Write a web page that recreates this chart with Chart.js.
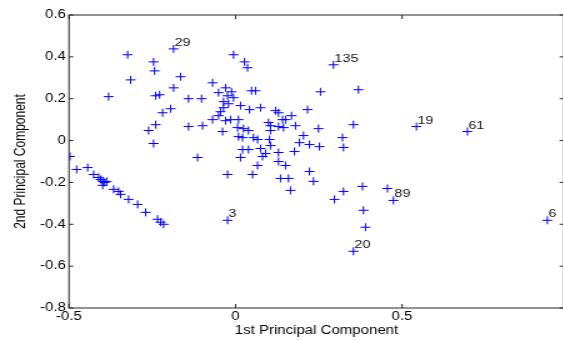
<!DOCTYPE html>
<html lang="en">
<head>
    <meta charset="UTF-8">
    <title>Principal Components</title>
    <script src="https://cdn.jsdelivr.net/npm/chart.js"></script>
    <style>
        html, body {
            margin: 0;
            padding: 0;
            width: 563px;
            height: 340px;
            overflow: hidden;
            background: #fff;
        }
        /* the reference is stretched sideways, so draw narrow and widen */
        #wrap {
            position: absolute;
            left: 0;
            top: 0;
            width: 460px;
            height: 340px;
            transform: scaleX(1.25);
            transform-origin: 0 0;
        }
    </style>
</head>
<body>

    <div id="wrap">
        <canvas id="pcaChart"></canvas>
    </div>

    <script>
        // scores on the first two principal components
        const pc1 = [
            -0.497, -0.477, -0.444, -0.426, -0.411, -0.405, -0.399, -0.393, -0.387, -0.399,
            -0.366, -0.351, -0.345, -0.321, -0.294, -0.270, -0.234, -0.225, -0.216,
            -0.324, -0.315, -0.381, -0.246, -0.243, -0.165, -0.186, -0.240, -0.228, -0.219,
            -0.195, -0.261, -0.240, -0.246, -0.141, -0.102, -0.141, -0.099, -0.114,
            -0.006, 0.027, 0.036, -0.069, -0.030, -0.012, -0.051, -0.024, -0.006, 0.048,
            0.060, 0.255, 0.369, -0.036, -0.021, -0.036, 0.015, 0.042, 0.075, 0.120,
            0.129, 0.168, 0.216, -0.045, -0.051, -0.069, -0.030, -0.015, 0.009, 0.006,
            -0.039, 0.024, 0.039, 0.009, 0.021, 0.054, 0.066, 0.099, 0.105, 0.141,
            0.150, 0.129, 0.144, 0.180, 0.249, 0.354, 0.321, 0.324, 0.102, 0.105,
            0.105, 0.204, 0.192, 0.222, 0.252, 0.039, 0.075, 0.090, 0.081, 0.129,
            0.177, 0.021, 0.015, 0.066, 0.129, 0.150, -0.024, 0.051, 0.135, 0.159,
            0.165, 0.222, 0.234, 0.324, 0.297, 0.381, 0.384, 0.390, 0.456
        ];
        const pc2 = [
            -0.076, -0.138, -0.129, -0.162, -0.176, -0.186, -0.195, -0.200, -0.195, -0.214,
            -0.233, -0.243, -0.257, -0.281, -0.305, -0.343, -0.376, -0.390, -0.400,
            0.410, 0.290, 0.210, 0.376, 0.333, 0.305, 0.252, 0.214, 0.219, 0.133,
            0.152, 0.048, 0.076, -0.014, 0.200, 0.200, 0.067, 0.071, -0.081,
            0.410, 0.376, 0.348, 0.276, 0.252, 0.233, 0.229, 0.214, 0.205, 0.238,
            0.238, 0.233, 0.243, 0.186, 0.176, 0.157, 0.167, 0.148, 0.157, 0.143,
            0.133, 0.119, 0.148, 0.138, 0.119, 0.100, 0.095, 0.100, 0.100, 0.062,
            0.043, 0.057, 0.048, 0.019, 0.014, 0.014, 0.005, 0.086, 0.071, 0.100,
            0.100, 0.067, 0.062, 0.071, 0.057, 0.076, 0.014, -0.033, 0.005, -0.024,
            0.048, 0.024, -0.010, -0.019, -0.029, -0.043, -0.038, -0.062, -0.076, -0.057,
            -0.052, -0.043, -0.081, -0.119, -0.100, -0.119, -0.162, -0.162, -0.181, -0.181,
            -0.238, -0.148, -0.195, -0.243, -0.281, -0.219, -0.333, -0.414, -0.229
        ];

        // observations that carry their number on the plot
        const tagText = ['29', '135', '19', '61', '89', '6', '3', '20'];
        const tagX = [-0.186, 0.294, 0.543, 0.696, 0.474, 0.936, -0.024, 0.354];
        const tagY = [0.438, 0.362, 0.067, 0.043, -0.286, -0.381, -0.381, -0.529];

        const xTicks = [-0.5, 0, 0.5];
        const xTickLabels = ['-0.5', '0', '0.5'];
        const yTicks = [-0.8, -0.6, -0.4, -0.2, 0, 0.2, 0.4, 0.6];
        const yTickLabels = ['-0.8', '-0.6', '-0.4', '-0.2', '0', '0.2', '0.4', '0.6'];

        const FONT = "'Liberation Sans', Arial, Helvetica, sans-serif";
        const BLUE = '#0000ff';

        const points = pc1.map((v, i) => ({ x: v, y: pc2[i] }));
        const tagged = tagX.map((v, i) => ({ x: v, y: tagY[i] }));

        // box with inward tick marks on all four sides
        const framePlugin = {
            id: 'frame',
            afterDraw(chart) {
                const { ctx, chartArea: a, scales } = chart;
                ctx.save();
                ctx.strokeStyle = '#262626';
                ctx.lineWidth = 1;
                ctx.strokeRect(a.left, a.top, a.right - a.left, a.bottom - a.top);
                ctx.beginPath();
                xTicks.forEach(v => {
                    const px = scales.x.getPixelForValue(v);
                    ctx.moveTo(px, a.bottom);
                    ctx.lineTo(px, a.bottom - 4);
                    ctx.moveTo(px, a.top);
                    ctx.lineTo(px, a.top + 4);
                });
                yTicks.forEach(v => {
                    const py = scales.y.getPixelForValue(v);
                    ctx.moveTo(a.left, py);
                    ctx.lineTo(a.left + 3.5, py);
                    ctx.moveTo(a.right, py);
                    ctx.lineTo(a.right - 3.5, py);
                });
                ctx.stroke();
                ctx.restore();
            }
        };

        const tagPlugin = {
            id: 'tags',
            afterDatasetsDraw(chart) {
                const ctx = chart.ctx;
                const meta = chart.getDatasetMeta(1);
                ctx.save();
                ctx.fillStyle = '#111';
                ctx.font = `11.5px ${FONT}`;
                ctx.textAlign = 'left';
                ctx.textBaseline = 'alphabetic';
                meta.data.forEach((pt, i) => {
                    ctx.fillText(tagText[i], pt.x + 0.8, pt.y - 3);
                });
                ctx.restore();
            }
        };

        const marker = {
            pointStyle: 'cross',
            pointRadius: 4,
            pointHoverRadius: 4,
            borderColor: BLUE,
            backgroundColor: BLUE,
            borderWidth: 1
        };

        new Chart(document.getElementById('pcaChart'), {
            type: 'scatter',
            data: {
                datasets: [
                    Object.assign({ label: 'scores', data: points }, marker),
                    Object.assign({ label: 'tagged', data: tagged }, marker)
                ]
            },
            options: {
                responsive: true,
                maintainAspectRatio: false,
                animation: false,
                events: [],
                layout: { padding: { top: 15, right: 8.8, left: 0, bottom: 0 } },
                plugins: {
                    legend: { display: false },
                    tooltip: { enabled: false }
                },
                scales: {
                    x: {
                        type: 'linear',
                        min: -0.5,
                        max: 0.986,
                        afterBuildTicks: s => { s.ticks = xTicks.map(v => ({ value: v })); },
                        afterFit: s => { s.height = 32; },
                        grid: { display: false, drawTicks: false },
                        border: { display: false },
                        ticks: {
                            callback: v => xTickLabels[xTicks.indexOf(v)],
                            autoSkip: false,
                            maxRotation: 0,
                            padding: 1,
                            color: '#000',
                            font: { family: FONT, size: 12 }
                        },
                        title: {
                            display: true,
                            text: '1st Principal Component',
                            color: '#000',
                            padding: { top: 0, bottom: 2.3 },
                            font: { family: FONT, size: 12 }
                        }
                    },
                    y: {
                        type: 'linear',
                        min: -0.8,
                        max: 0.6,
                        afterBuildTicks: s => { s.ticks = yTicks.map(v => ({ value: v })); },
                        afterFit: s => { s.width = 55.2; },
                        grid: { display: false, drawTicks: false },
                        border: { display: false },
                        ticks: {
                            callback: v => yTickLabels[yTicks.indexOf(v)],
                            autoSkip: false,
                            padding: 2.5,
                            color: '#000',
                            font: { family: FONT, size: 12 }
                        },
                        title: {
                            display: true,
                            text: '2nd Principal Component',
                            color: '#000',
                            padding: { top: 9.6, bottom: 0 },
                            font: { family: FONT, size: 12 }
                        }
                    }
                }
            },
            plugins: [framePlugin, tagPlugin]
        });
    </script>

</body>
</html>
